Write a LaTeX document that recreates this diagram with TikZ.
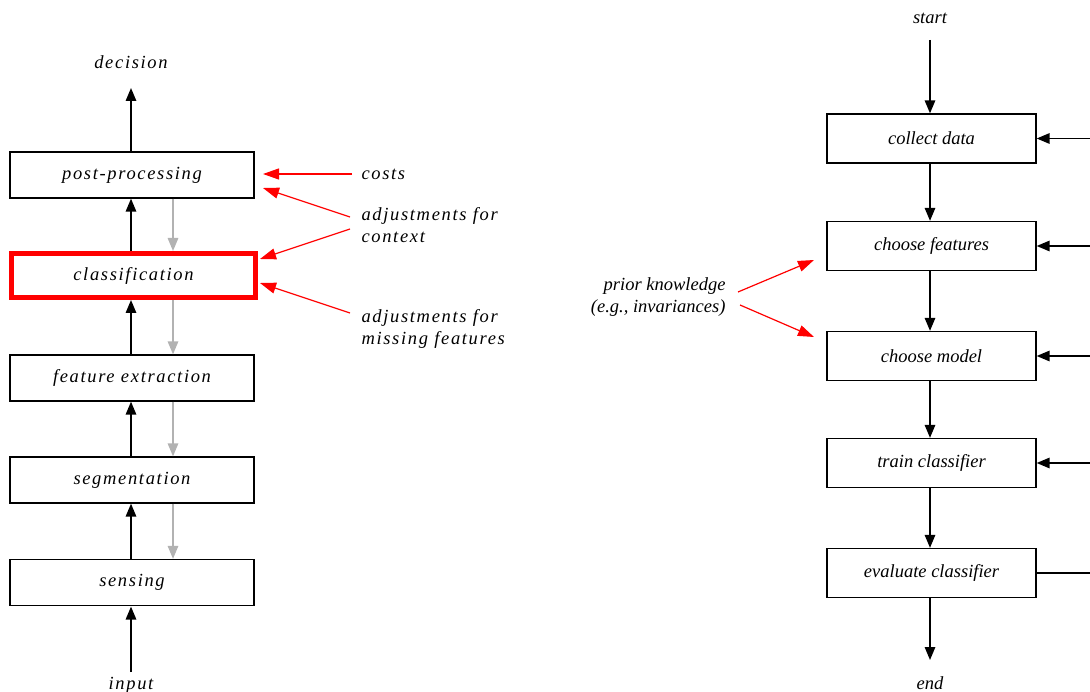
\documentclass[tikz,border=0pt]{standalone}
\usepackage{fontspec}
\setmainfont{Liberation Serif}
\newfontfamily\lsp[LetterSpace=9]{Liberation Serif}
\usetikzlibrary{arrows.meta}
\definecolor{arrgray}{RGB}{178,178,178}
\tikzset{
  lfont/.style={font=\lsp\itshape\fontsize{18.5}{22}\selectfont},
  rfont/.style={font=\itshape\fontsize{18.5}{22}\selectfont},
  lbox/.style={draw, line width=1.3pt, minimum width=244pt, minimum height=46pt, inner sep=0pt, lfont},
  redbox/.style={draw=red, line width=5pt, minimum width=244pt, minimum height=44pt, inner sep=0pt, lfont},
  rbox/.style={draw, line width=1.3pt, minimum width=209pt, minimum height=49pt, inner sep=0pt, rfont},
  blk/.style={line width=1.5pt, -{Triangle[length=13pt,width=10.5pt]}},
  gry/.style={arrgray, line width=1.5pt, -{Triangle[length=13pt,width=10.5pt]}},
  redarr/.style={red, line width=1.2pt, -{Triangle[length=16pt,width=11pt]}},
  plain/.style={line width=1.5pt},
}
\begin{document}
\begin{tikzpicture}[x=1pt,y=-1pt]
\useasboundingbox (0,0) rectangle (1090,692);

% ---------- left pipeline ----------
\node[lbox]   (post) at (132,175)   {post-processing};
\node[redbox] (cls)  at (133.5,275.5) {classification};
\node[lbox]   (feat) at (132,378)   {feature extraction};
\node[lbox]   (seg)  at (132,480)   {segmentation};
\node[lbox]   (sens) at (132,582.5) {sensing};

\node[lfont] (dec) at (131,62) {decision};
\node[lfont] (inp) at (131,685) {input};

\coordinate (decarr) at (131,88);
\coordinate (inparr) at (131,672);

\draw[blk] (inparr) -- (131,606.6);
\draw[blk] ([xshift=-1pt]sens.north) -- ([xshift=-1pt]seg.south);
\draw[blk] ([xshift=-1pt]seg.north) -- ([xshift=-1pt]feat.south);
\draw[blk] ([xshift=-1pt]feat.north) -- ([xshift=-2.5pt]cls.south);
\draw[blk] ([xshift=-2.5pt]cls.north) -- ([xshift=-1pt]post.south);
\draw[blk] ([xshift=-1pt]post.north) -- (decarr);

\draw[gry] ([xshift=41pt]post.south) -- ([xshift=39.5pt]cls.north);
\draw[gry] ([xshift=39.5pt]cls.south) -- ([xshift=41pt]feat.north);
\draw[gry] ([xshift=41pt]feat.south) -- ([xshift=41pt]seg.north);
\draw[gry] ([xshift=41pt]seg.south) -- ([xshift=41pt]sens.north);

% labels on the left
\node[lfont, anchor=west] (costs) at (358,174) {costs};
\node[lfont, anchor=west, align=left] (adjc) at (358,225) {adjustments for\\context};
\node[lfont, anchor=west, align=left] (adjm) at (358,329) {adjustments for\\missing features};

\coordinate (c1) at (352,174);
\coordinate (c2) at (350,217);
\coordinate (c3) at (350,229);
\coordinate (c4) at (350,313);
\coordinate (t1) at (263,174);
\coordinate (t2) at (263,188);
\coordinate (t3) at (260,259);
\coordinate (t4) at (260,283);
\draw[redarr] (c1) -- (t1);
\draw[redarr] (c2) -- (t2);
\draw[redarr] (c3) -- (t3);
\draw[redarr] (c4) -- (t4);

% ---------- right design cycle ----------
\node[rbox] (col)  at (931.5,138.5) {collect data};
\node[rbox] (chf)  at (931.5,246)   {choose features};
\node[rbox] (chm)  at (931.5,356)   {choose model};
\node[rbox] (trn)  at (931.5,463)   {train classifier};
\node[rbox] (evl)  at (931.5,573)   {evaluate classifier};

\node[rfont] (start) at (930,18) {start};
\node[rfont] (end)   at (930,683) {end};
\coordinate (startarr) at (930,40);
\coordinate (endarr) at (930,660);

\draw[blk] (startarr) -- (col.north -| startarr);
\draw[blk] (col.south -| startarr) -- (chf.north -| startarr);
\draw[blk] (chf.south -| startarr) -- (chm.north -| startarr);
\draw[blk] (chm.south -| startarr) -- (trn.north -| startarr);
\draw[blk] (trn.south -| startarr) -- (evl.north -| startarr);
\draw[blk] (evl.south -| startarr) -- (endarr);

\coordinate (f1) at (1090,138.5);
\coordinate (f2) at (1090,246);
\coordinate (f3) at (1090,356);
\coordinate (f4) at (1090,463);
\coordinate (f5) at (1090,573);
\draw[blk] (f1) -- (col.east);
\draw[blk] (f2) -- (chf.east);
\draw[blk] (f3) -- (chm.east);
\draw[blk] (f4) -- (trn.east);
\draw[plain] (evl.east) -- (f5);

% prior knowledge
\node[rfont, anchor=east, align=right] (prior) at (729,297) {prior knowledge\\(e.g., invariances)};
\coordinate (p1) at (738,292);
\coordinate (p2) at (740,305);
\coordinate (q1) at (814,260);
\coordinate (q2) at (814,337);
\draw[redarr] (p1) -- (q1);
\draw[redarr] (p2) -- (q2);
\end{tikzpicture}
\end{document}
